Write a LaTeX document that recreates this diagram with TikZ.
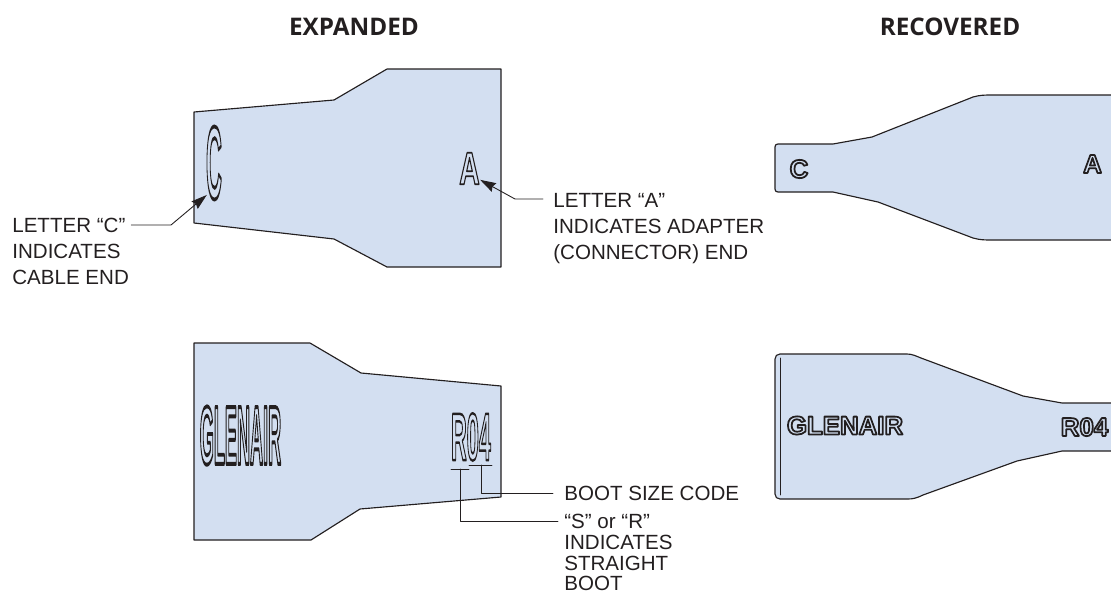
\documentclass[tikz,border=0pt]{standalone}
\usepackage{fontspec}
\setmainfont{Liberation Sans}
\newfontfamily\titlefont{Open Sans}
\usetikzlibrary{calc,positioning,arrows.meta}
\definecolor{BootBlue}{HTML}{D3DFF1}
\definecolor{BootInk}{HTML}{231F20}
\newcommand{\outlined}[2]{\special{pdf:code q 1 Tr #1 w}#2\special{pdf:code Q}}
\tikzset{
  boot/.style={fill=BootBlue,draw=BootInk,line width=.65pt,line join=round},
  stamp/.style={inner sep=0pt,text=BootInk,transform shape,font=\fontsize{14.7}{14.7}\bfseries\selectfont},
  label/.style={inner sep=0pt,text=BootInk,align=left,anchor=north west,font=\fontsize{11.7}{14.7}\selectfont},
  header/.style={inner sep=0pt,text=BootInk,font=\titlefont\fontsize{13.8}{16}\bfseries\selectfont},
  leader/.style={draw=BootInk,line width=.5pt},
  pointer/.style={leader,-{Stealth[length=9pt,width=5.5pt,inset=1pt]}}
}
\begin{document}
\begin{tikzpicture}[x=.02cm,y=-.02cm,line cap=round,line join=round]
  \useasboundingbox (0,0) rectangle (1111,592);
  \node[header] (titleExp) at (354,27) {EXPANDED};
  \node[header] (titleRec) at (950,27) {RECOVERED};
  \draw[boot] (194,112)--(334,100)--(387,69)--(501,69)--(501,267)--(387,267)--(334,239)--(194,223)--cycle;
  \draw[boot] (194,343)--(310,343)--(361,373)--(501,386)--(501,497)--(360,509)--(311,540)--(194,540)--cycle;
  \fill[BootBlue] (775,147) .. controls (775,145) and (776,144) .. (778,144) -- (833,144) -- (872,137) -- (973,97) .. controls (980,95) and (985,95) .. (992,95) -- (1111,95) -- (1111,240) -- (992,240) .. controls (985,240) and (980,240) .. (973,238) -- (878,202) -- (833,192) -- (778,192) .. controls (776,192) and (775,191) .. (775,189) -- cycle;
  \draw[boot,fill=none] (1111,95) -- (992,95) .. controls (985,95) and (980,95) .. (973,97) -- (872,137) -- (833,144) -- (778,144) .. controls (776,144) and (775,145) .. (775,147) -- (775,189) .. controls (775,191) and (776,192) .. (778,192) -- (833,192) -- (878,202) -- (973,238) .. controls (980,240) and (985,240) .. (992,240) -- (1111,240);
  \fill[BootBlue] (775,359) .. controls (775,356) and (777,354) .. (780,354) -- (907,354) .. controls (912,354) and (916,356) .. (921,358) -- (1023,396) -- (1062,403) -- (1111,403) -- (1111,451) -- (1062,451) -- (1017,461) -- (923,495) .. controls (917,498) and (913,499) .. (908,499) -- (780,499) .. controls (777,499) and (775,497) .. (775,494) -- cycle;
  \draw[boot,fill=none] (1111,403) -- (1062,403) -- (1023,396) -- (921,358) .. controls (916,356) and (912,354) .. (907,354) -- (780,354) .. controls (777,354) and (775,356) .. (775,359) -- (775,494) .. controls (775,497) and (777,499) .. (780,499) -- (908,499) .. controls (913,499) and (917,498) .. (923,495) -- (1017,461) -- (1062,451) -- (1111,451);
  \draw[boot,fill=none,line width=.5pt] (780,358) -- (780,495);
  \node[stamp,xscale=.85,yscale=4] (expC) at (214,163) {\outlined{.55}{C}};
  \node[stamp,xscale=1.1,yscale=1.77] (expA) at (469.5,168.5) {\outlined{.55}{A}};
  \node[stamp,xscale=.70,yscale=3.2] (expGlenair) at (240.5,435.5) {\outlined{.7}{GLENAIR}};
  \node[stamp,xscale=.84,yscale=2.6] (expCode) at (471,437) {\outlined{.55}{R04}};
  \node[stamp] (recC) at (799,169) {\outlined{1}{C}};
  \node[stamp] (recA) at (1092.5,164) {\outlined{1}{A}};
  \node[stamp] (recGlenair) at (845,425.5) {\outlined{1}{GLENAIR}};
  \node[stamp] (recCode) at (1084.5,427) {\outlined{1}{R04}};
  \node[label] (lblC) at (12,218) {LETTER “C”\\INDICATES\\CABLE END};
  \node[label] (lblA) at (553,193) {LETTER “A”\\INDICATES ADAPTER\\(CONNECTOR) END};
  \node[label] (lblSize) at (564,486) {BOOT SIZE CODE};
  \node[label,font=\fontsize{11.7}{11.8}\selectfont] (lblStraight) at (564,514) {“S” or “R”\\INDICATES\\STRAIGHT\\BOOT};
  \coordinate (kneeC) at (171,225);
  \coordinate (kneeA) at (515,199);
  \coordinate (tickSize) at (481,465);
  \coordinate (tickKind) at (460,469);
  \draw[pointer] ($(lblC.east |- kneeC)+(2,0)$) -- (kneeC) -- ($(expC.south west)+(1,-6)$);
  \draw[pointer] ($(lblA.west |- kneeA)+(-10,0)$) -- (kneeA) -- ($(expA.south east)+(0,-5)$);
  \draw[leader] (469,465) -- (492,465);
  \draw[leader] (451,469) -- (469,469);
  \draw[leader] (tickSize) |- ($(lblSize.west)+(-11,0)$);
  \draw[leader] (tickKind) |- ($(lblStraight.north west)+(-6,7)$);
\end{tikzpicture}
\end{document}
